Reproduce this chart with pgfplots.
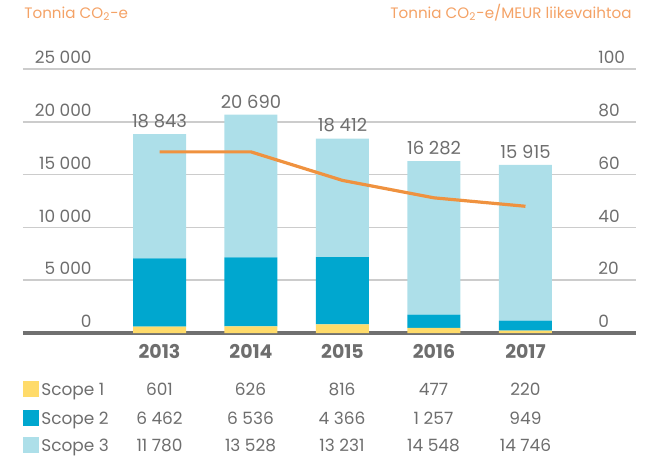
\documentclass[border=0pt]{standalone}
\usepackage{fontspec}
\setmainfont{Poppins}
\usepackage{pgfplots}
\pgfplotsset{compat=1.18}
\definecolor{txt}{HTML}{6E6E6E}
\definecolor{ttl}{HTML}{F4A266}
\definecolor{sone}{HTML}{FFDB6A}
\definecolor{stwo}{HTML}{00A7CF}
\definecolor{sthree}{HTML}{ADDFE9}
\definecolor{lin}{HTML}{EF923F}
\definecolor{grd}{HTML}{CCCCCC}
\definecolor{base}{HTML}{707070}
\begin{document}
\begin{tikzpicture}
\useasboundingbox (-11.5bp,-62.5bp) rectangle (316.5bp,166.5bp);
\begin{axis}[at={(0,0)}, anchor=south west, scale only axis,
  width=306.5bp, height=132bp,
  xmin=-1.492, xmax=5.208, ymin=0, ymax=25000,
  enlargelimits=false, clip=false, scaled y ticks=false,
  ybar stacked, bar width=26.5bp,
  axis line style={draw=none}, major tick length=0pt,
  ymajorgrids, grid style={grd, line width=0.75bp},
  xtick={0,1,2,3,4}, xticklabels={2013,2014,2015,2016,2017},
  xticklabel style={font=\fontsize{9.5}{10}\selectfont\bfseries, text=txt, anchor=north, inner sep=0pt, yshift=-5.5bp},
  ytick={0,5000,10000,15000,20000,25000},
  yticklabels={0,5 000,10 000,15 000,20 000,25 000},
  yticklabel style={font=\fontsize{8.5}{10}\selectfont, text=txt, anchor=south east, inner sep=0pt, xshift=34.5bp, yshift=2.5bp},
]
\addplot[fill=sone, draw=none] coordinates {(0,601) (1,626) (2,816) (3,477) (4,220)};
\addplot[fill=stwo, draw=none] coordinates {(0,6462) (1,6536) (2,6380) (3,1257) (4,949)};
\addplot[fill=sthree, draw=none] coordinates {(0,11780) (1,13528) (2,11216) (3,14548) (4,14746)};
\draw[base, line width=1.75bp] (rel axis cs:0,0) -- (rel axis cs:1,0);
\end{axis}
\begin{axis}[at={(0,0)}, anchor=south west, scale only axis,
  width=306.5bp, height=132bp,
  xmin=-1.492, xmax=5.208, ymin=0, ymax=25000,
  enlargelimits=false, clip=false, hide axis,
  ybar, bar width=26.5bp,
]
\addplot[draw=none, fill=none, nodes near coords, point meta=explicit symbolic,
  every node near coord/.append style={font=\fontsize{9}{10}\selectfont, text=txt, anchor=south, inner sep=0pt, yshift=3bp}]
  coordinates {(0,18843) [18 843] (1,20690) [20 690] (2,18412) [18 412] (3,16282) [16 282] (4,15915) [15 915]};
\end{axis}
\begin{axis}[at={(0,0)}, anchor=south west, scale only axis,
  width=306.5bp, height=132bp,
  xmin=-1.492, xmax=5.208, ymin=0, ymax=100,
  enlargelimits=false, clip=false,
  axis line style={draw=none}, major tick length=0pt,
  xtick=\empty,
  ytick={0,20,40,60,80,100}, yticklabels={0,20,40,60,80,100},
  yticklabel pos=right,
  yticklabel style={font=\fontsize{8.5}{10}\selectfont, text=txt, anchor=south west, inner sep=0pt, xshift=-19bp, yshift=2.5bp},
]
\addplot[lin, line width=1.6bp, mark=none] coordinates {(0,68.6) (1,68.6) (2,57.8) (3,51.2) (4,48.0)};
\end{axis}
\begin{scope}[x=0.5bp, y=0.5bp]
\node[anchor=base west, inner sep=0pt, text=ttl, font=\fontsize{7.6}{9}\selectfont] at (1,315) {Tonnia CO\textsubscript{2}-e};
\node[anchor=base east, inner sep=0pt, text=ttl, font=\fontsize{7.6}{9}\selectfont] at (609,315) {Tonnia CO\textsubscript{2}-e/MEUR liikevaihtoa};
\fill[sone] (0,-64) rectangle (16,-48);
\fill[stwo] (0,-93) rectangle (16,-77);
\fill[sthree] (0,-120) rectangle (16,-104);
\foreach \y/\t in {-56/Scope 1, -85/Scope 2, -112/Scope 3}
  \node[anchor=base west, inner sep=0pt, text=txt, font=\fontsize{8.5}{10}\selectfont] at (18,\y-6.5) {\t};
\foreach \x/\a/\b/\c in {136.5/601/6 462/11 780, 227.5/626/6 536/13 528, 319/816/4 366/13 231, 410.5/477/1 257/14 548, 502.5/220/949/14 746}{
  \node[anchor=base, inner sep=0pt, text=txt, font=\fontsize{8.5}{10}\selectfont] at (\x,-62.5) {\a};
  \node[anchor=base, inner sep=0pt, text=txt, font=\fontsize{8.5}{10}\selectfont] at (\x,-91.5) {\b};
  \node[anchor=base, inner sep=0pt, text=txt, font=\fontsize{8.5}{10}\selectfont] at (\x,-118.5) {\c};
}
\end{scope}
\end{tikzpicture}
\end{document}
